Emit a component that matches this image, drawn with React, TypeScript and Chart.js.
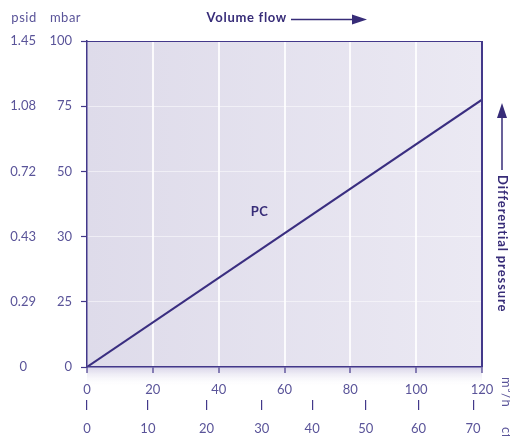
import React, { useEffect, useRef } from 'react';
import { Chart, registerables } from 'chart.js';

Chart.register(...registerables);

// ---- data ----
const flowTicks = [0, 20, 40, 60, 80, 100, 120]; // m³/h
const cfmLabels = ['0', '10', '20', '30', '40', '50', '60', '70'];
const cfmTickPositions = [0, 18.5, 36.3, 53.1, 68.4, 84.7, 100.7, 117.3]; // expressed on the m³/h scale
const mbarLabels = ['0', '25', '30', '50', '75', '100'];
const psidLabels = ['0', '0.29', '0.43', '0.72', '1.08', '1.45'];
const pcFlow = [0, 120];
const pcPressure = [0, 82]; // on the evenly spaced pressure axis (one tick step = 20)
const pcLabel = { text: 'PC', x: 52.4, y: 47.5 };

const FONT = 'Lato, "Open Sans", sans-serif';
const AXIS = '#43388a';
const TEXT = '#5a5499';
const DARK = '#372c78';
const LINE = '#3a2e80';

const decor = {
  id: 'decor',
  beforeDraw(chart: any) {
    const { ctx, chartArea } = chart;
    const { left, right, top, bottom } = chartArea;
    ctx.save();
    const g = ctx.createLinearGradient(left, 0, right, 0);
    g.addColorStop(0, '#dedbea');
    g.addColorStop(1, '#ebe9f3');
    ctx.fillStyle = g;
    ctx.fillRect(left, top, right - left, bottom - top);
    const s = ctx.createLinearGradient(0, bottom, 0, bottom + 20);
    s.addColorStop(0, 'rgba(215,211,232,1)');
    s.addColorStop(1, 'rgba(255,255,255,0)');
    ctx.fillStyle = s;
    ctx.fillRect(left, bottom, right - left, 20);
    ctx.restore();
  },
  afterDraw(chart: any) {
    const { ctx, chartArea } = chart;
    const { left, right, top, bottom } = chartArea;
    ctx.save();
    // frame top / right
    ctx.strokeStyle = AXIS;
    ctx.lineWidth = 1.2;
    ctx.beginPath();
    ctx.moveTo(left, top + 0.5);
    ctx.lineTo(right, top + 0.5);
    ctx.stroke();
    ctx.lineWidth = 2;
    ctx.beginPath();
    ctx.moveTo(right, top);
    ctx.lineTo(right, bottom);
    ctx.stroke();

    // headers
    ctx.fillStyle = TEXT;
    ctx.font = `13px ${FONT}`;
    ctx.textAlign = 'center';
    ctx.textBaseline = 'middle';
    (ctx as any).letterSpacing = '0.5px';
    ctx.fillText('psid', 24, 18);
    ctx.fillText('mbar', 65.5, 18);

    // title with arrow
    ctx.fillStyle = DARK;
    ctx.font = `bold 13px ${FONT}`;
    (ctx as any).letterSpacing = '0.7px';
    ctx.textAlign = 'right';
    ctx.fillText('Volume flow', 287, 18);
    ctx.strokeStyle = DARK;
    ctx.lineWidth = 1.5;
    ctx.beginPath();
    ctx.moveTo(291, 19.5);
    ctx.lineTo(354, 19.5);
    ctx.stroke();
    ctx.beginPath();
    ctx.moveTo(367, 19.5);
    ctx.lineTo(352, 14.5);
    ctx.lineTo(352, 24.5);
    ctx.closePath();
    ctx.fill();

    // right side title with arrow
    ctx.beginPath();
    ctx.moveTo(502, 116);
    ctx.lineTo(502, 170);
    ctx.stroke();
    ctx.beginPath();
    ctx.moveTo(502, 103);
    ctx.lineTo(497, 118);
    ctx.lineTo(507, 118);
    ctx.closePath();
    ctx.fill();
    ctx.save();
    ctx.translate(502, 175);
    ctx.rotate(Math.PI / 2);
    ctx.textAlign = 'left';
    ctx.textBaseline = 'middle';
    (ctx as any).letterSpacing = '0.9px';
    ctx.fillText('Differential pressure', 0, 0);
    ctx.restore();

    // unit labels
    ctx.fillStyle = TEXT;
    ctx.font = `13px ${FONT}`;
    (ctx as any).letterSpacing = '0.5px';
    ctx.save();
    ctx.translate(506, 377);
    ctx.rotate(Math.PI / 2);
    ctx.textAlign = 'left';
    ctx.textBaseline = 'middle';
    ctx.fillText('m³/h', 0, 0);
    ctx.restore();
    ctx.save();
    ctx.translate(506, 427);
    ctx.rotate(Math.PI / 2);
    ctx.textAlign = 'left';
    ctx.textBaseline = 'middle';
    ctx.fillText('cfm', 0, 0);
    ctx.restore();

    // PC label
    const xs = chart.scales.x;
    const ys = chart.scales.y;
    ctx.fillStyle = DARK;
    ctx.font = `bold 13px ${FONT}`;
    ctx.textAlign = 'center';
    ctx.fillText(pcLabel.text, xs.getPixelForValue(pcLabel.x), ys.getPixelForValue(pcLabel.y));
    (ctx as any).letterSpacing = '0px';
    ctx.restore();
  },
};

export default function App() {
  const ref = useRef<HTMLCanvasElement | null>(null);

  useEffect(() => {
    document.body.style.margin = '0';
    const canvas = ref.current;
    if (!canvas) return;
    const font = { family: FONT, size: 13 };
    const edgeX = (c: any) => (c.tick && (c.tick.value === 0 || c.tick.value === 120) ? 'rgba(0,0,0,0)' : 'rgba(255,255,255,0.85)');
    const edgeY = (c: any) => (c.tick && (c.tick.value === 0 || c.tick.value === 100) ? 'rgba(0,0,0,0)' : 'rgba(255,255,255,0.5)');
    const chart = new Chart(canvas, {
      type: 'line',
      data: {
        datasets: [
          {
            label: 'PC',
            data: pcFlow.map((x, i) => ({ x, y: pcPressure[i] })),
            borderColor: LINE,
            borderWidth: 2,
            pointRadius: 0,
            fill: false,
            xAxisID: 'x',
            yAxisID: 'y',
          },
        ],
      },
      options: {
        responsive: false,
        animation: false,
        layout: { padding: { left: 0, top: 41, right: 28, bottom: 0 } },
        plugins: { legend: { display: false }, tooltip: { enabled: false } },
        scales: {
          x: {
            type: 'linear',
            position: 'bottom',
            weight: 0,
            min: 0,
            max: 120,
            afterBuildTicks: (s: any) => {
              s.ticks = flowTicks.map((v) => ({ value: v }));
            },
            ticks: { color: TEXT, font, padding: 9, autoSkip: false, maxRotation: 0 },
            grid: { color: edgeX, lineWidth: 2, tickColor: AXIS, tickLength: 6, tickWidth: 1.2 },
            border: { color: AXIS, width: 1.5, z: 1 },
            afterFit: (s: any) => {
              s.height = 33;
            },
          },
          x2: {
            type: 'linear',
            position: 'bottom',
            weight: 1,
            min: 0,
            max: 120,
            afterBuildTicks: (s: any) => {
              s.ticks = cfmTickPositions.map((v) => ({ value: v }));
            },
            ticks: {
              color: TEXT,
              font,
              padding: 11,
              autoSkip: false,
              maxRotation: 0,
              callback: (_v: any, i: number) => cfmLabels[i],
            },
            grid: { drawOnChartArea: false, color: AXIS, tickLength: 10, lineWidth: 1.2 },
            border: { display: false },
            afterFit: (s: any) => {
              s.height = 36;
            },
          },
          y: {
            type: 'linear',
            position: 'left',
            weight: 0,
            min: 0,
            max: 100,
            ticks: {
              stepSize: 20,
              color: TEXT,
              font,
              padding: 9,
              callback: (v: any) => mbarLabels[Math.round(Number(v) / 20)],
            },
            grid: { color: edgeY, lineWidth: 1, tickColor: AXIS, tickLength: 6, tickWidth: 1.2 },
            border: { color: AXIS, width: 1.5, z: 1 },
            afterFit: (s: any) => {
              s.width = 48;
            },
          },
          y2: {
            type: 'linear',
            position: 'left',
            weight: 1,
            min: 0,
            max: 100,
            ticks: {
              stepSize: 20,
              color: TEXT,
              font,
              padding: 3,
              crossAlign: 'center',
              callback: (v: any) => psidLabels[Math.round(Number(v) / 20)],
            },
            grid: { display: false, drawTicks: false },
            border: { display: false },
            afterFit: (s: any) => {
              s.width = 39;
            },
          },
        },
      } as any,
      plugins: [decor],
    });
    return () => chart.destroy();
  }, []);

  return <canvas ref={ref} width={510} height={436} style={{ display: 'block' }} />;
}
